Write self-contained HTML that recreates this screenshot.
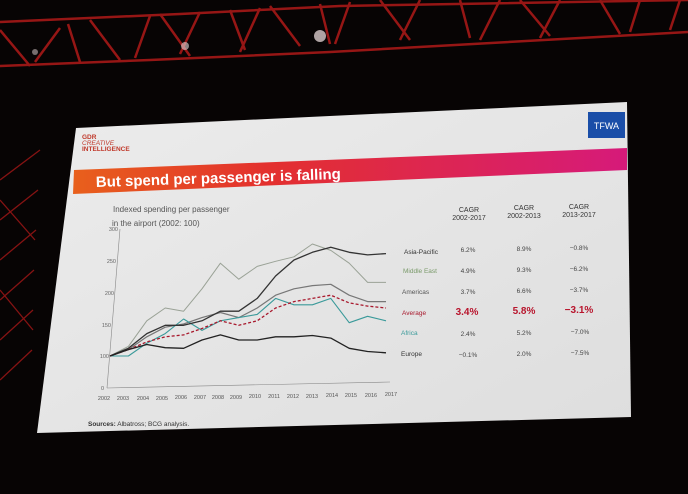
<!DOCTYPE html>
<html><head><meta charset="utf-8"><style>
html,body{margin:0;padding:0;background:#070404;}
svg{display:block;font-family:"Liberation Sans",sans-serif;}
</style></head><body>
<svg width="688" height="494" viewBox="0 0 688 494" xmlns="http://www.w3.org/2000/svg">
<defs>
<linearGradient id="ban" x1="0" x2="1" y1="0" y2="0">
<stop offset="0" stop-color="#e8601c"/><stop offset="0.35" stop-color="#e3302e"/><stop offset="1" stop-color="#d61a7a"/>
</linearGradient>
<linearGradient id="scr" x1="0" x2="1" y1="0" y2="1">
<stop offset="0" stop-color="#ececec"/><stop offset="1" stop-color="#dedede"/>
</linearGradient>
</defs>
<rect width="688" height="494" fill="#070404"/>
<!-- truss -->
<g stroke="#b01a18" stroke-width="2.5" fill="none" opacity="0.85">
<path d="M0,22 L180,14 L340,6 L688,0"/>
<path d="M0,66 L150,60 L330,52 L688,32"/>
<path d="M0,30 L30,66 M60,28 L35,62 M68,24 L80,62 M90,20 L120,60 M150,16 L135,58 M160,14 L190,56 M200,12 L180,54 M230,10 L245,50 M260,8 L240,52 M270,6 L300,46 M320,4 L330,44 M350,2 L335,44 M380,0 L410,40 M420,0 L400,40 M460,0 L470,38 M500,0 L480,40 M520,0 L550,36 M560,0 L540,38 M600,0 L620,34 M640,0 L630,32 M680,0 L670,30"/>
</g>
<circle cx="320" cy="36" r="6" fill="#e8d8d8" opacity="0.75"/>
<circle cx="185" cy="46" r="4" fill="#e8d8d8" opacity="0.6"/>
<circle cx="35" cy="52" r="3" fill="#e8d8d8" opacity="0.5"/>
<g stroke="#b01818" stroke-width="1.3" opacity="0.75">
<path d="M0,180 L40,150 M0,220 L38,190 M0,260 L36,230 M0,300 L34,270 M0,340 L33,310 M0,380 L32,350 M0,200 L35,240 M0,290 L33,330"/>
</g>
<!-- screen -->
<polygon points="76,128 627,102 631,417 37,433" fill="url(#scr)"/>
<!-- logo -->
<rect x="588" y="112" width="37" height="26" fill="#1a4ea8"/>
<text x="606.5" y="129" font-size="9" fill="#fff" text-anchor="middle">TFWA</text>
<text x="82" y="139" font-size="6.5" fill="#c0392b" font-weight="bold">GDR</text>
<text x="82" y="145" font-size="6.5" fill="#c0392b" font-style="italic">CREATIVE</text>
<text x="82" y="151" font-size="6.5" fill="#c0392b" font-weight="bold">INTELLIGENCE</text>
<!-- banner -->
<polygon points="74,170 627,148 627,170 73,194" fill="url(#ban)"/>
<text x="96" y="187" font-size="15" font-weight="bold" fill="#fff" transform="rotate(-1.9 96 187)">But spend per passenger is falling</text>
<!-- chart -->
<text x="113" y="212" font-size="8" fill="#555">Indexed spending per passenger</text>
<text x="112" y="226" font-size="8" fill="#555">in the airport (2002: 100)</text>
<g font-size="5.5" fill="#666" text-anchor="end">
<text x="118" y="231">300</text><text x="116" y="263">250</text><text x="114" y="295">200</text>
<text x="111" y="327">150</text><text x="109" y="358">100</text><text x="104" y="390">0</text>
</g>
<line x1="120" y1="229" x2="107" y2="388" stroke="#888" stroke-width="0.6"/>
<line x1="107" y1="388" x2="390" y2="382" stroke="#888" stroke-width="0.6"/>
<g font-size="5.5" fill="#555" text-anchor="middle">
<text x="104" y="400">2002</text><text x="123" y="400">2003</text><text x="143" y="400">2004</text><text x="162" y="400">2005</text><text x="181" y="399">2006</text><text x="200" y="399">2007</text><text x="218" y="399">2008</text><text x="236" y="399">2009</text><text x="255" y="398">2010</text><text x="274" y="398">2011</text><text x="293" y="398">2012</text><text x="312" y="398">2013</text><text x="332" y="397">2014</text><text x="351" y="397">2015</text><text x="371" y="397">2016</text><text x="391" y="396">2017</text>
</g>
<g fill="none" stroke-linejoin="round">
<polyline stroke="#9aa296" stroke-width="1" points="110,356 128.4,346.4 146.8,320.8 165.2,308 183.6,311.2 202,288.8 220.4,263.2 238.8,279.2 257.2,266.4 275.6,261.3 294,256.8 312.4,244 330.8,250.4 349.2,263.2 367.6,282.4 386,282.4"/>
<polyline stroke="#777" stroke-width="1.2" points="110,356 128.4,349.6 146.8,336.8 165.2,327.2 183.6,324 202,317.6 220.4,312.5 238.8,317.6 257.2,308 275.6,295.2 294,288.8 312.4,285.6 330.8,284.3 349.2,295.2 367.6,301.6 386,301.6"/>
<polyline stroke="#3a9a9a" stroke-width="1.1" points="110,356 128.4,356 146.8,343.2 165.2,333.6 183.6,319 202,330.4 220.4,320.8 238.8,317.6 257.2,314.4 275.6,298.4 294,304.8 312.4,304.8 330.8,298.4 349.2,322.7 367.6,316.3 386,320.8"/>
<polyline stroke="#a8182c" stroke-width="1.3" stroke-dasharray="3,2" points="110,356 128.4,349.6 146.8,341.9 165.2,336.8 183.6,334.9 202,328.5 220.4,320.8 238.8,325.3 257.2,320.8 275.6,308 294,301.6 312.4,298.4 330.8,295.2 349.2,302.9 367.6,306.1 386,308"/>
<polyline stroke="#333" stroke-width="1.3" points="110,356 128.4,348.3 146.8,333.6 165.2,325.3 183.6,325.3 202,320.8 220.4,311.2 238.8,311.2 257.2,298.4 275.6,276 294,260 312.4,252.3 330.8,247.2 349.2,252.3 367.6,254.9 386,253.6"/>
<polyline stroke="#222" stroke-width="1.3" points="110,356 128.4,349.6 146.8,344.5 165.2,347.7 183.6,348.3 202,340 220.4,334.9 238.8,340 257.2,340 275.6,336.8 294,336.8 312.4,335.5 330.8,338.1 349.2,348.3 367.6,351.5 386,352.8"/>
</g>
<g font-size="6.5">
<text x="404" y="254" fill="#333">Asia-Pacific</text>
<text x="403" y="273" fill="#7a9a6a">Middle East</text>
<text x="402" y="294" fill="#555">Americas</text>
<text x="402" y="315" fill="#a8182c">Average</text>
<text x="401" y="335" fill="#3a9a9a">Africa</text>
<text x="401" y="356" fill="#333">Europe</text>
</g>
<g font-size="7" fill="#333" text-anchor="middle">
<text x="469" y="212">CAGR</text><text x="469" y="220">2002-2017</text>
<text x="524" y="210">CAGR</text><text x="524" y="218">2002-2013</text>
<text x="579" y="209">CAGR</text><text x="579" y="217">2013-2017</text>
</g>
<g font-size="6.5" fill="#444" text-anchor="middle">
<text x="468" y="252">6.2%</text><text x="524" y="251">8.9%</text><text x="579" y="250">−0.8%</text>
<text x="468" y="273">4.9%</text><text x="524" y="272">9.3%</text><text x="579" y="271">−6.2%</text>
<text x="468" y="294">3.7%</text><text x="524" y="293">6.6%</text><text x="579" y="292">−3.7%</text>
<text x="468" y="336">2.4%</text><text x="524" y="335">5.2%</text><text x="580" y="334">−7.0%</text>
<text x="468" y="357">−0.1%</text><text x="524" y="356">2.0%</text><text x="580" y="355">−7.5%</text>
</g>
<g font-size="10" font-weight="bold" fill="#b8142c" text-anchor="middle">
<text x="467" y="315">3.4%</text><text x="524" y="314">5.8%</text><text x="579" y="313">−3.1%</text>
</g>
<text x="88" y="426" font-size="6.5" fill="#333"><tspan font-weight="bold">Sources:</tspan> Albatross; BCG analysis.</text>
</svg>
</body></html>
